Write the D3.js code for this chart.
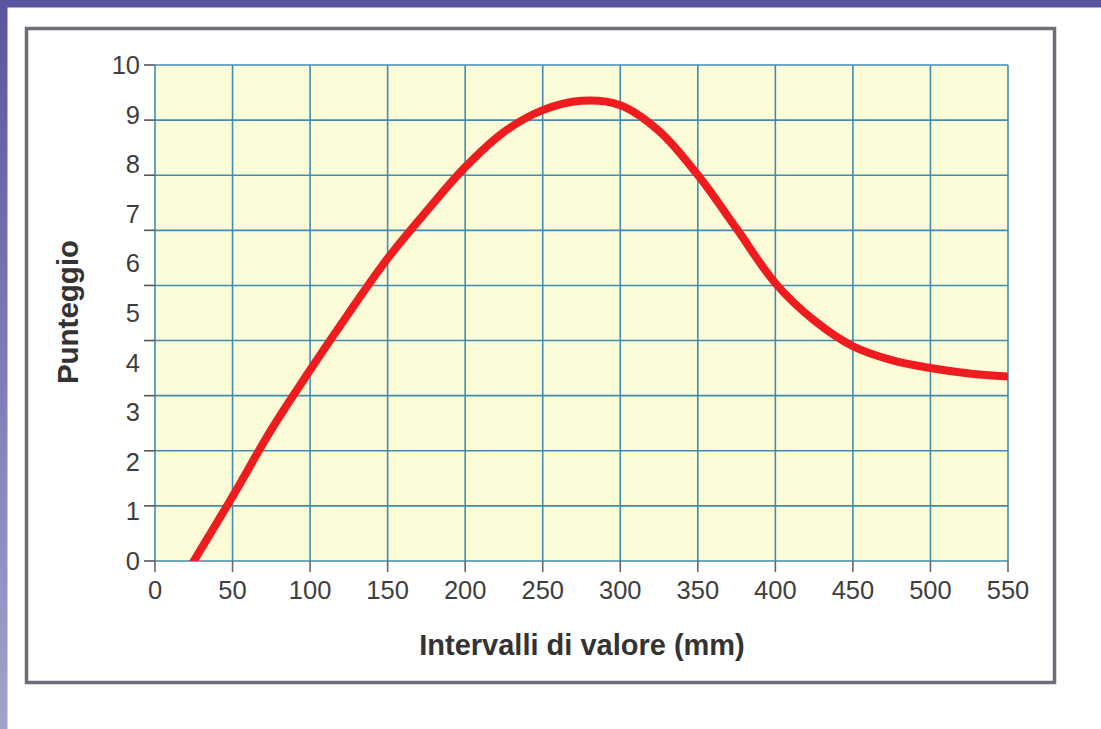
<!DOCTYPE html>
<html>
<head>
<meta charset="utf-8">
<script src="https://cdn.jsdelivr.net/npm/d3@7"></script>
<style>
  html, body { margin: 0; padding: 0; background: #ffffff; }
  svg { display: block; }
</style>
</head>
<body>
<svg id="chart" width="1101" height="729"></svg>
<script>
// ---- data ----
const xValues = [25, 50, 75, 100, 125, 150, 175, 200, 225, 250, 275, 300, 325, 350, 375, 400, 425, 450, 475, 500, 525, 550];
const yValues = [0, 1.3, 2.65, 3.85, 5.0, 6.1, 7.05, 7.94, 8.65, 9.09, 9.28, 9.19, 8.67, 7.78, 6.7, 5.6, 4.85, 4.33, 4.05, 3.89, 3.78, 3.72];
const xTickValues = [0, 50, 100, 150, 200, 250, 300, 350, 400, 450, 500, 550];
const yTickValues = [0, 1, 2, 3, 4, 5, 6, 7, 8, 9, 10];
const yGridDivisions = 9;
const xTitle = "Intervalli di valore (mm)";
const yTitle = "Punteggio";

// ---- layout ----
const W = 1101, H = 729;
const plot = { left: 155, right: 1008, top: 65, bottom: 561 };
const svg = d3.select("#chart");
const font = "'Liberation Sans', Arial, Helvetica, sans-serif";

// page decoration (scan border bands)
const defs = svg.append("defs");
const grad = defs.append("linearGradient").attr("id", "leftBand")
  .attr("x1", 0).attr("y1", 0).attr("x2", 0).attr("y2", 1);
grad.append("stop").attr("offset", "0%").attr("stop-color", "#5a55a0");
grad.append("stop").attr("offset", "100%").attr("stop-color", "#a3a2cc");
defs.append("clipPath").attr("id", "plotClip").append("rect")
  .attr("x", plot.left).attr("y", plot.top)
  .attr("width", plot.right - plot.left).attr("height", plot.bottom - plot.top);

svg.append("rect").attr("x", 0).attr("y", 0).attr("width", W).attr("height", H).attr("fill", "#ffffff");
svg.append("rect").attr("x", 0).attr("y", 0).attr("width", 7.5).attr("height", H).attr("fill", "url(#leftBand)");
svg.append("rect").attr("x", 0).attr("y", 0).attr("width", W).attr("height", 7.5).attr("fill", "#5a55a0");

// frame
svg.append("rect").attr("x", 26.5).attr("y", 28.5).attr("width", 1028).attr("height", 654)
  .attr("fill", "none").attr("stroke", "#6e6e7a").attr("stroke-width", 3.5);

// ---- scales ----
const x = d3.scaleLinear().domain([0, 550]).range([plot.left, plot.right]);
const y = d3.scaleLinear().domain([0, 10]).range([plot.bottom, plot.top]);
const yGrid = d3.range(0, yGridDivisions + 1).map(i => i * 10 / yGridDivisions);

// plot background
svg.append("rect").attr("x", x(0)).attr("y", y(10))
  .attr("width", x(550) - x(0)).attr("height", y(0) - y(10))
  .attr("fill", "#fdfcd9");

const gridColor = "#3f8db3";
// vertical gridlines
svg.append("g").selectAll("line").data(xTickValues).join("line")
  .attr("x1", d => x(d)).attr("x2", d => x(d))
  .attr("y1", y(0)).attr("y2", y(10))
  .attr("stroke", gridColor).attr("stroke-width", 1.6);
// horizontal gridlines
svg.append("g").selectAll("line").data(yGrid).join("line")
  .attr("x1", x(0)).attr("x2", x(550))
  .attr("y1", d => y(d)).attr("y2", d => y(d))
  .attr("stroke", gridColor).attr("stroke-width", 1.6);

// tick marks
svg.append("g").selectAll("line").data(yGrid).join("line")
  .attr("x1", x(0) - 11).attr("x2", x(0))
  .attr("y1", d => y(d)).attr("y2", d => y(d))
  .attr("stroke", "#555").attr("stroke-width", 1.6);
svg.append("g").selectAll("line").data(xTickValues).join("line")
  .attr("x1", d => x(d)).attr("x2", d => x(d))
  .attr("y1", y(0)).attr("y2", y(0) + 11)
  .attr("stroke", "#666").attr("stroke-width", 1.6);

// tick labels
svg.append("g").selectAll("text").data(xTickValues).join("text")
  .attr("x", d => x(d)).attr("y", 599)
  .attr("text-anchor", "middle")
  .attr("font-family", font).attr("font-size", 25.5).attr("fill", "#3e3e3e")
  .text(d => d);
svg.append("g").selectAll("text").data(yTickValues).join("text")
  .attr("x", 140).attr("y", d => y(d) + 9)
  .attr("text-anchor", "end")
  .attr("font-family", font).attr("font-size", 25.5).attr("fill", "#3e3e3e")
  .text(d => d);

// axis titles
svg.append("text").attr("x", 582).attr("y", 655)
  .attr("text-anchor", "middle")
  .attr("font-family", font).attr("font-size", 29).attr("font-weight", "bold").attr("fill", "#333")
  .text(xTitle);
svg.append("text")
  .attr("transform", `translate(78, 312) rotate(-90)`)
  .attr("text-anchor", "middle")
  .attr("font-family", font).attr("font-size", 29.5).attr("font-weight", "bold").attr("fill", "#333")
  .text(yTitle);

// curve
const data = xValues.map((v, i) => ({ x: v, y: yValues[i] }));
const line = d3.line().x(d => x(d.x)).y(d => y(d.y)).curve(d3.curveCatmullRom.alpha(0.5));
svg.append("path").datum(data)
  .attr("clip-path", "url(#plotClip)")
  .attr("d", line)
  .attr("fill", "none").attr("stroke", "#ee1c1e").attr("stroke-width", 8)
  .attr("stroke-linecap", "square");
</script>
</body>
</html>
